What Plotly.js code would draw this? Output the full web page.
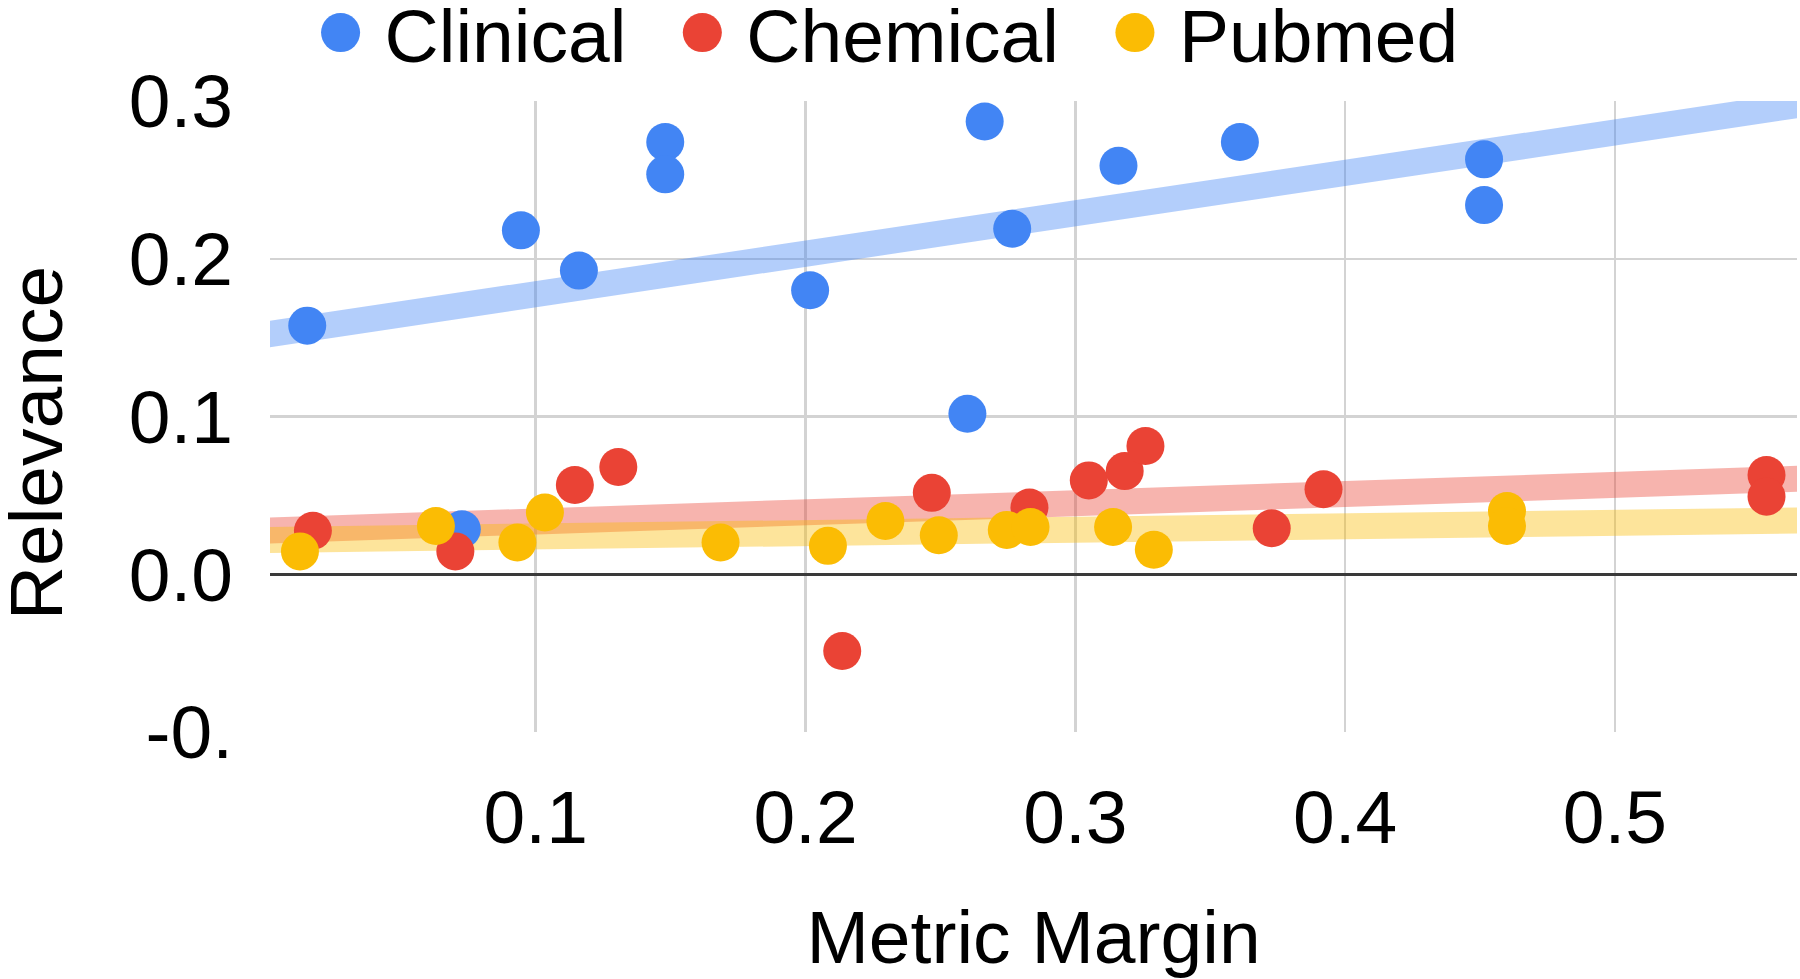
<!DOCTYPE html>
<html>
<head>
<meta charset="utf-8">
<script src="https://cdn.plot.ly/plotly-3.0.1.min.js"></script>
<style>
  html, body { margin: 0; padding: 0; background: #ffffff; }
  #chart { width: 1800px; height: 979px; }
</style>
</head>
<body>
<div id="chart"></div>
<script>
// ---- data ----
const seriesNames = ["Clinical", "Chemical", "Pubmed"];
const seriesColors = ["#4285F4", "#EA4335", "#FBBC04"];

const clinicalX = [0.0153, 0.0945, 0.116, 0.148, 0.148, 0.2017, 0.2664, 0.2766, 0.260, 0.316, 0.361, 0.4515, 0.4515, 0.0726];
const clinicalY = [0.1576, 0.218, 0.1925, 0.274, 0.2535, 0.180, 0.287, 0.219, 0.1017, 0.259, 0.274, 0.263, 0.234, 0.0285];

const chemicalX = [0.0174, 0.0702, 0.1145, 0.1306, 0.2136, 0.2468, 0.283, 0.305, 0.3183, 0.326, 0.3728, 0.392, 0.5562, 0.5562];
const chemicalY = [0.0276, 0.0145, 0.0566, 0.068, -0.0487, 0.0516, 0.0423, 0.0595, 0.0654, 0.0813, 0.0292, 0.0539, 0.0629, 0.0492];

const pubmedX = [0.0126, 0.063, 0.0932, 0.1034, 0.1685, 0.2083, 0.2296, 0.2494, 0.2746, 0.2834, 0.314, 0.3291, 0.460, 0.460];
const pubmedY = [0.0145, 0.0306, 0.0201, 0.0391, 0.0201, 0.018, 0.0338, 0.0247, 0.0281, 0.030, 0.030, 0.0155, 0.0401, 0.0306];

const xTickVals = [0.1, 0.2, 0.3, 0.4, 0.5];
const xTickText = ["0.1", "0.2", "0.3", "0.4", "0.5"];
const yTickVals = [-0.1, 0.0, 0.1, 0.2, 0.3];
const yTickText = ["-0.", "0.0", "0.1", "0.2", "0.3"];

const xTitle = "Metric Margin";
const yTitle = "Relevance";

// ---- layout constants ----
const xRange = [0.0015, 0.5675];
const yRange = [-0.1, 0.3];
const FONT = "Liberation Sans, Arial, sans-serif";
const FS = 75;

function linFit(xs, ys) {
  const n = xs.length;
  let mx = 0, my = 0;
  for (let i = 0; i < n; i++) { mx += xs[i]; my += ys[i]; }
  mx /= n; my /= n;
  let sxy = 0, sxx = 0;
  for (let i = 0; i < n; i++) { sxy += (xs[i] - mx) * (ys[i] - my); sxx += (xs[i] - mx) * (xs[i] - mx); }
  const b = sxy / sxx;
  return { a: my - b * mx, b: b };
}

function hexToRgba(hex, a) {
  const r = parseInt(hex.slice(1, 3), 16), g = parseInt(hex.slice(3, 5), 16), b = parseInt(hex.slice(5, 7), 16);
  return `rgba(${r},${g},${b},${a})`;
}

const allX = [clinicalX, chemicalX, pubmedX];
const allY = [clinicalY, chemicalY, pubmedY];

const traces = [];
// trendlines first (underneath)
for (let s = 0; s < 3; s++) {
  const f = linFit(allX[s], allY[s]);
  const x0 = xRange[0] - 0.02, x1 = xRange[1] + 0.02;
  traces.push({
    type: "scatter", mode: "lines",
    x: [x0, x1], y: [f.a + f.b * x0, f.a + f.b * x1],
    line: { color: hexToRgba(seriesColors[s], 0.4), width: 26 },
    showlegend: false, hoverinfo: "skip"
  });
}
for (let s = 0; s < 3; s++) {
  traces.push({
    type: "scatter", mode: "markers", name: seriesNames[s],
    x: allX[s], y: allY[s],
    marker: { color: seriesColors[s], size: 38, line: { width: 0 } },
    cliponaxis: false
  });
}

const layout = {
  width: 1800, height: 979,
  paper_bgcolor: "#ffffff", plot_bgcolor: "#ffffff",
  font: { family: FONT, size: FS, color: "#000000" },
  margin: { l: 270, r: 3, t: 101, b: 247, autoexpand: false },
  showlegend: true,
  legend: {
    orientation: "h", x: 0.0174, xanchor: "left", y: 1.108, yanchor: "middle",
    font: { family: FONT, size: FS, color: "#000000" },
    itemwidth: 78, bgcolor: "rgba(0,0,0,0)", traceorder: "normal"
  },
  xaxis: {
    range: xRange, tickvals: xTickVals, ticktext: xTickText,
    showgrid: true, gridcolor: "#d3d3d3", gridwidth: 2.5,
    zeroline: false, showline: false, ticks: "",
    ticklabelstandoff: 35,
    tickfont: { family: FONT, size: FS, color: "#000000" },
    title: { text: xTitle, font: { family: FONT, size: FS, color: "#000000" }, standoff: 55 },
    automargin: false, fixedrange: true
  },
  yaxis: {
    range: yRange, tickvals: yTickVals, ticktext: yTickText,
    showgrid: true, gridcolor: "#d3d3d3", gridwidth: 2.5,
    zeroline: true, zerolinecolor: "#3a3a3a", zerolinewidth: 3,
    showline: false, ticks: "",
    ticklabelstandoff: 36,
    tickfont: { family: FONT, size: FS, color: "#000000" },
    title: { text: yTitle, font: { family: FONT, size: FS, color: "#000000" }, standoff: 40 },
    automargin: false, fixedrange: true
  }
};

Plotly.newPlot("chart", traces, layout, { displayModeBar: false, staticPlot: true }).then(function () {
  // let legend entries draw past the legend's own clip box
  document.querySelectorAll(".legend .scrollbox, .legend").forEach(function (el) {
    el.removeAttribute("clip-path");
  });
  // enlarge legend symbols to match the data markers
  document.querySelectorAll(".legend .legendpoints path.scatterpts").forEach(function (p) {
    const t = p.getAttribute("transform") || "";
    p.setAttribute("transform", t + " scale(2.44)");
  });
  // widen spacing between legend entries
  document.querySelectorAll(".legend g.traces").forEach(function (g, i) {
    const t = g.getAttribute("transform") || "";
    g.setAttribute("transform", "translate(" + (i * 27) + ",0) " + t);
  });
  // place the y title where the reference has it
  const yt = document.querySelector(".g-ytitle");
  if (yt) {
    const r = yt.getBoundingClientRect();
    const dx = 36 - (r.left + r.right) / 2;
    const dy = 443 - (r.top + r.bottom) / 2;
    const t = yt.getAttribute("transform") || "";
    yt.setAttribute("transform", t + " translate(" + dx + "," + dy + ")");
  }
});
</script>
</body>
</html>
